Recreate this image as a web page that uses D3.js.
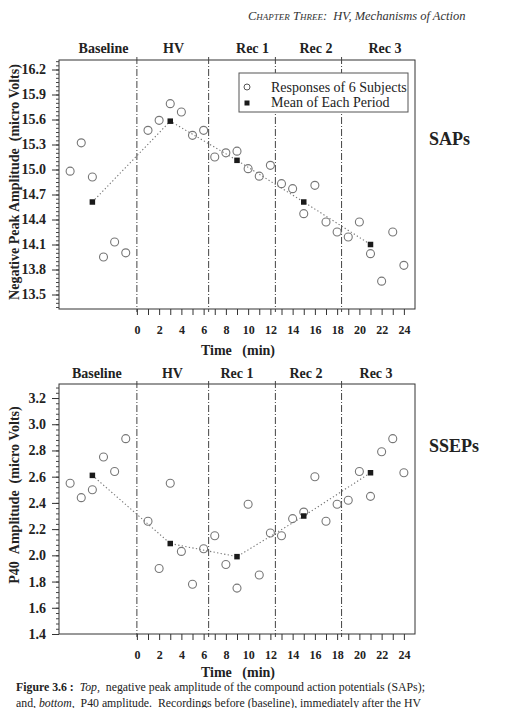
<!DOCTYPE html>
<html>
<head>
<meta charset="utf-8">
<script src="https://cdn.jsdelivr.net/npm/d3@7"></script>
<style>
  html, body { margin: 0; padding: 0; background: #ffffff; }
  svg { display: block; font-family: "Liberation Serif", "Times New Roman", serif; }
</style>
</head>
<body>
<svg id="chart" width="520" height="708"></svg>
<script>
// ---------------- DATA ----------------
const periods = ["Baseline", "HV", "Rec 1", "Rec 2", "Rec 3"];
const periodBoundaries = [0, 6.45, 12.45, 18.4];
const periodLabelTimeTop = [-3.0, 3.3, 10.4, 16.1, 22.3];
const periodLabelTimeBottom = [-3.6, 3.2, 9.0, 15.2, 21.5];

const subjectTimes = [-6, -5, -4, -3, -2, -1,
                      1, 2, 3, 4, 5, 6,
                      7, 8, 9, 10, 11, 12,
                      13, 14, 15, 16, 17, 18,
                      19, 20, 21, 22, 23, 24];
const meanTimes = [-4, 3, 9, 15, 21];

const sapSubjects = [14.98, 15.32, 14.91, 13.95, 14.13, 14.00,
                     15.47, 15.59, 15.79, 15.69, 15.41, 15.47,
                     15.15, 15.20, 15.22, 15.01, 14.92, 15.05,
                     14.83, 14.77, 14.47, 14.81, 14.37, 14.25,
                     14.19, 14.37, 13.99, 13.66, 14.25, 13.85];
const sapMeans = [14.61, 15.58, 15.11, 14.61, 14.10];

const ssepSubjects = [2.55, 2.44, 2.50, 2.75, 2.64, 2.89,
                      2.26, 1.90, 2.55, 2.03, 1.78, 2.05,
                      2.15, 1.93, 1.75, 2.39, 1.85, 2.17,
                      2.15, 2.28, 2.33, 2.60, 2.26, 2.39,
                      2.42, 2.64, 2.45, 2.79, 2.89, 2.63];
const ssepMeans = [2.61, 2.09, 1.99, 2.30, 2.63];

const xTickValues = [0, 2, 4, 6, 8, 10, 12, 14, 16, 18, 20, 22, 24];
const sapYTicks = [13.5, 13.8, 14.1, 14.4, 14.7, 15.0, 15.3, 15.6, 15.9, 16.2];
const ssepYTicks = [1.4, 1.6, 1.8, 2.0, 2.2, 2.4, 2.6, 2.8, 3.0, 3.2];

const legendLabels = ["Responses of 6 Subjects", "Mean of Each Period"];

// ---------------- DRAW ----------------
const svg = d3.select("#chart");
const FONT = '"Liberation Serif", "Times New Roman", serif';

// header
const hdr = svg.append("text").attr("x", 248).attr("y", 20)
  .attr("font-style", "italic").attr("font-size", 12.5).attr("fill", "#333");
hdr.append("tspan").attr("font-variant", "small-caps").text("Chapter Three:");
hdr.append("tspan").text("\u00A0 HV, Mechanisms of Action");

function drawPanel(opts) {
  const { top, bottom, yDomain, yTicks, yMinorStep, yFmt, subjects, means,
          labelTimes, labelY, titleY, yTitle, yTitleY, sideLabel, sideLabelY, legend } = opts;
  const left = 59, right = 415;
  const x = d3.scaleLinear().domain([-7, 25]).range([left, right]);
  const y = d3.scaleLinear().domain(yDomain).range([bottom, top]);
  const g = svg.append("g");

  // frame
  g.append("rect").attr("x", left).attr("y", top)
    .attr("width", right - left).attr("height", bottom - top)
    .attr("fill", "none").attr("stroke", "#333").attr("stroke-width", 1);

  // y axis (minor ticks)
  const minorTicks = d3.range(0, 200).map(i => +(yTicks[0] - 10 * yMinorStep + i * yMinorStep).toFixed(3))
    .filter(v => v >= yDomain[0] - 1e-9 && v <= yDomain[1] + 1e-9);
  g.append("g").attr("transform", `translate(${left},0)`)
    .call(d3.axisLeft(y).tickValues(minorTicks).tickSize(3).tickFormat(""))
    .call(a => a.select(".domain").remove())
    .call(a => a.selectAll("line").attr("stroke", "#444"));
  // major ticks
  const ya = g.append("g").attr("transform", `translate(${left},0)`)
    .call(d3.axisLeft(y).tickValues(yTicks).tickSize(7).tickPadding(6).tickFormat(yFmt));
  ya.select(".domain").remove();
  ya.selectAll("line").attr("stroke", "#333");
  ya.selectAll("text").attr("font-family", FONT).attr("font-weight", "bold")
    .attr("font-size", 14).attr("fill", "#222");

  // x axis: ticks every minute from 0..24, labels on even
  const xa = g.append("g").attr("transform", `translate(0,${bottom})`)
    .call(d3.axisBottom(x).tickValues(d3.range(0, 25)).tickSize(6).tickPadding(10)
      .tickFormat(d => xTickValues.includes(d) ? d : ""));
  xa.select(".domain").remove();
  xa.selectAll("line").attr("stroke", "#333");
  xa.selectAll("text").attr("font-family", FONT).attr("font-weight", "bold")
    .attr("font-size", 12).attr("fill", "#222");

  // period boundaries (dash-dot)
  g.selectAll(".bnd").data(periodBoundaries).join("line")
    .attr("x1", d => x(d)).attr("x2", d => x(d))
    .attr("y1", top - 3).attr("y2", bottom + 3)
    .attr("stroke", "#444").attr("stroke-width", 1)
    .attr("stroke-dasharray", "7,2,1,2");

  // period labels
  g.selectAll(".plab").data(periods).join("text")
    .attr("x", (d, i) => x(labelTimes[i])).attr("y", labelY)
    .attr("text-anchor", "middle").attr("font-weight", "bold").attr("font-size", 14)
    .attr("fill", "#222").text(d => d);

  // x title
  g.append("text").attr("x", 238).attr("y", titleY).attr("text-anchor", "middle")
    .attr("font-weight", "bold").attr("font-size", 14).attr("fill", "#222")
    .text("Time\u00A0\u00A0\u00A0(min)");

  // y title
  g.append("text").attr("transform", `translate(19,${yTitleY}) rotate(-90)`)
    .attr("text-anchor", "middle").attr("font-weight", "bold").attr("font-size", 14)
    .attr("fill", "#222").text(yTitle);

  // side label
  g.append("text").attr("x", 429).attr("y", sideLabelY)
    .attr("font-weight", "bold").attr("font-size", 18).attr("fill", "#222").text(sideLabel);

  // mean line (dotted)
  const line = d3.line().x((d, i) => x(meanTimes[i])).y(d => y(d));
  g.append("path").datum(means).attr("d", line)
    .attr("fill", "none").attr("stroke", "#777").attr("stroke-width", 1.1)
    .attr("stroke-dasharray", "1.3,2.3");

  // subject circles
  g.selectAll(".subj").data(subjects).join("circle")
    .attr("cx", (d, i) => x(subjectTimes[i])).attr("cy", d => y(d)).attr("r", 4)
    .attr("fill", "none").attr("stroke", "#777").attr("stroke-width", 1.1);

  // mean squares
  const s = 5.5;
  g.selectAll(".mean").data(means).join("rect")
    .attr("x", (d, i) => x(meanTimes[i]) - s / 2).attr("y", d => y(d) - s / 2)
    .attr("width", s).attr("height", s).attr("fill", "#1a1a1a");

  if (legend) {
    const lg = g.append("g");
    lg.append("rect").attr("x", 239).attr("y", 73).attr("width", 169).attr("height", 39)
      .attr("fill", "#fff").attr("stroke", "#555").attr("stroke-width", 1);
    lg.append("circle").attr("cx", 247).attr("cy", 87).attr("r", 3)
      .attr("fill", "none").attr("stroke", "#555").attr("stroke-width", 1);
    lg.append("rect").attr("x", 244.5).attr("y", 100.5).attr("width", 5).attr("height", 5)
      .attr("fill", "#1a1a1a");
    lg.selectAll(".lt").data(legendLabels).join("text")
      .attr("x", 271).attr("y", (d, i) => 91.5 + i * 15.5)
      .attr("font-size", 14).attr("fill", "#222").text(d => d);
  }
}

drawPanel({
  top: 60, bottom: 309, yDomain: [13.326, 16.314], yTicks: sapYTicks, yMinorStep: 0.05,
  yFmt: d3.format(".1f"), subjects: sapSubjects, means: sapMeans,
  labelTimes: periodLabelTimeTop, labelY: 53, titleY: 355,
  yTitle: "Negative Peak Amplitude\u00A0\u00A0(micro Volts)", yTitleY: 182,
  sideLabel: "SAPs", sideLabelY: 145, legend: true
});

drawPanel({
  top: 384, bottom: 634, yDomain: [1.4, 3.307], yTicks: ssepYTicks, yMinorStep: 0.04,
  yFmt: d3.format(".1f"), subjects: ssepSubjects, means: ssepMeans,
  labelTimes: periodLabelTimeBottom, labelY: 378, titleY: 677,
  yTitle: "P40\u00A0\u00A0Amplitude\u00A0\u00A0(micro Volts)", yTitleY: 495,
  sideLabel: "SSEPs", sideLabelY: 452, legend: false
});

// caption
const cap1 = svg.append("text").attr("x", 16).attr("y", 691).attr("font-size", 11.8).attr("fill", "#222");
cap1.append("tspan").attr("font-weight", "bold").text("Figure 3.6 :\u00A0 ");
cap1.append("tspan").attr("font-style", "italic").text("Top,");
cap1.append("tspan").text("\u00A0 negative peak amplitude of the compound action potentials (SAPs);");
const cap2 = svg.append("text").attr("x", 16).attr("y", 706.5).attr("font-size", 11.8).attr("fill", "#222");
cap2.append("tspan").text("and, ");
cap2.append("tspan").attr("font-style", "italic").text("bottom,");
cap2.append("tspan").text("\u00A0 P40 amplitude.\u00A0 Recordings before (baseline), immediately after the HV");
</script>
</body>
</html>
